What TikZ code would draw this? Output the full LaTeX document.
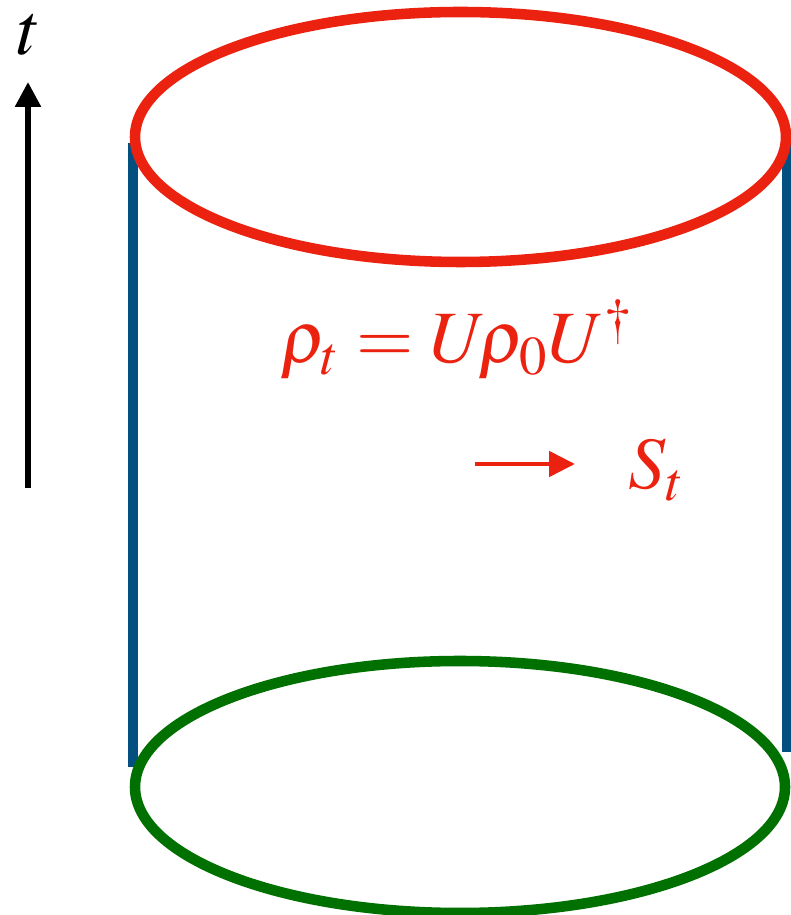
\documentclass[tikz,border=0pt]{standalone}
\usepackage{mathptmx}
\usepackage{tikz}
\usetikzlibrary{arrows.meta,positioning}
\definecolor{flame}{RGB}{236,34,16}
\definecolor{petrol}{RGB}{3,80,128}
\definecolor{forest}{RGB}{0,112,0}

\begin{document}
\begin{tikzpicture}[
    wall/.style={petrol,line width=2.8pt},
    rim/.style={line width=3pt},
    bigmath/.style={font=\fontsize{21}{25}\selectfont,inner sep=0pt},
    timearrow/.style={line width=1.6pt,-{Triangle[length=0.25cm,width=0.25cm]}}]
  \useasboundingbox (0,0) rectangle (7.9,9.15);
  % side walls
  \draw[wall] (1.33,1.48) -- (1.33,7.72);
  \draw[wall] (7.87,1.63) -- (7.87,7.72);
  % top and bottom
  \draw[rim,flame] (4.605,7.78) ellipse (3.255 and 1.25);
  \draw[rim,forest] (4.60,1.28) ellipse (3.25 and 1.26);
  % time axis
  \coordinate (tlow) at (0.28,4.27);
  \coordinate (thigh) at (0.28,8.33);
  \draw[timearrow] (tlow) -- (thigh);
  \node[bigmath,anchor=base] (tlab) at (0.29,8.60) {$t$};
  % state and entropy
  \node[bigmath,flame,anchor=base west] (rho) at (2.80,5.52) {$\rho_t = U\!\rho_0U^\dagger$};
  \node[bigmath,flame,anchor=base west] (entropy) at (6.28,4.26) {$S_t$};
  \coordinate (from) at (4.75,4.51);
  \coordinate (to) at (5.75,4.51);
  \draw[flame,line width=1.4pt,-{Triangle[length=0.26cm,width=0.25cm]}] (from) -- (to);
\end{tikzpicture}
\end{document}
